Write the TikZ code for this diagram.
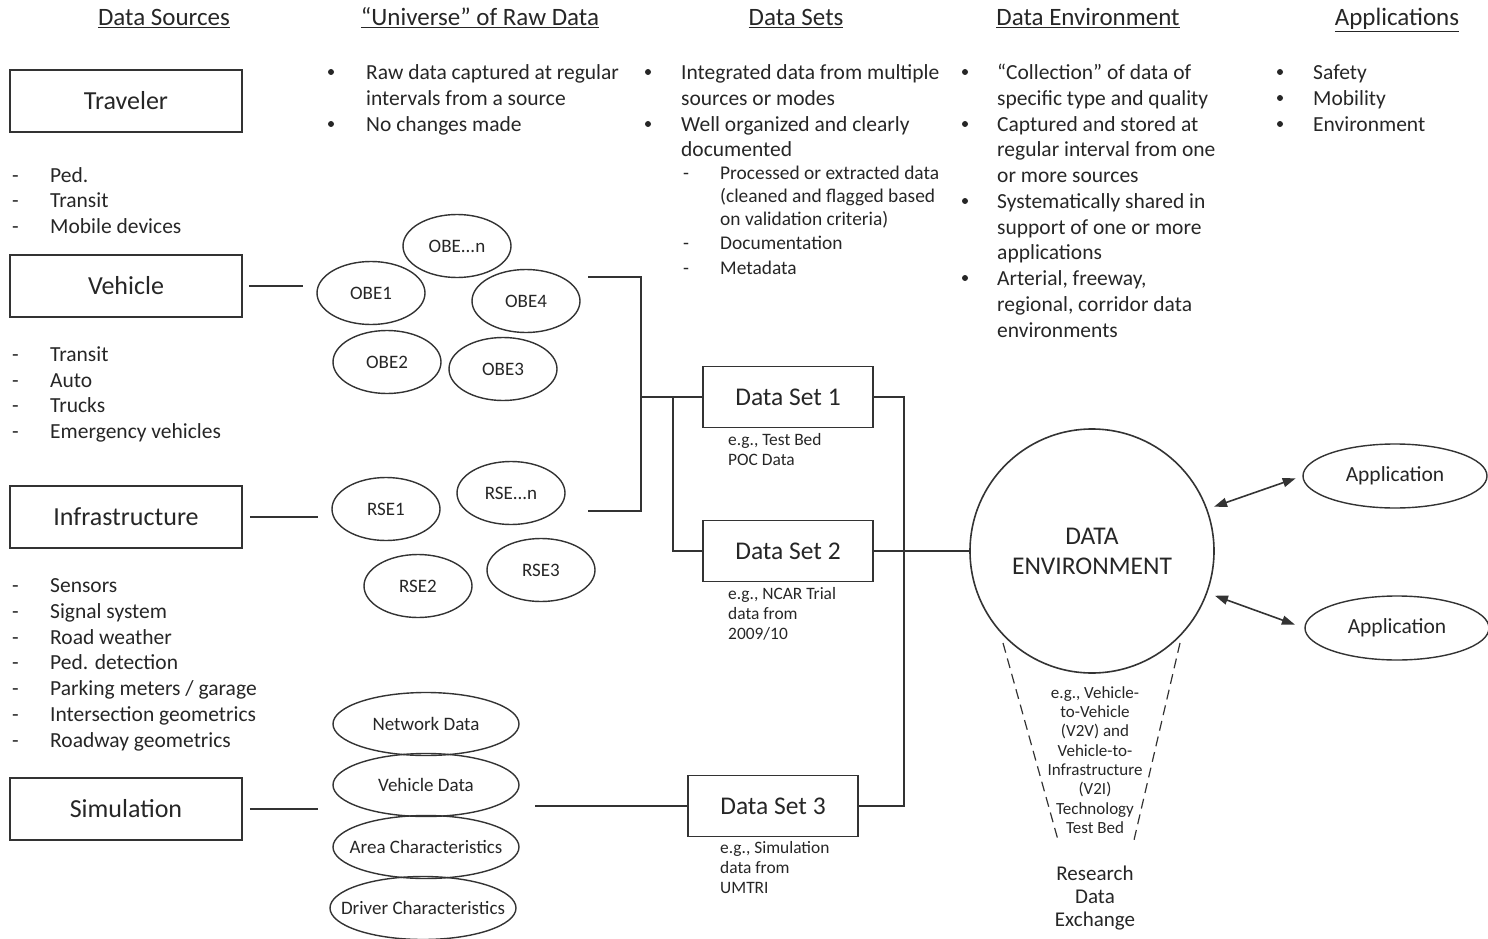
\documentclass[tikz,border=0pt]{standalone}
\usepackage{fontspec}
\setmainfont{Carlito}
\usetikzlibrary{shapes.geometric,arrows.meta,calc}
\definecolor{ink}{HTML}{262626}
\definecolor{edge}{HTML}{333333}
\begin{document}
\begin{tikzpicture}[x=1pt,y=-1pt,
  hdr/.style={anchor=base, inner sep=0, text=ink, font=\fontsize{25}{29}\selectfont},
  srcbox/.style={draw=edge, line width=1.6, minimum width=232, minimum height=62,
    inner sep=0, text=ink, font=\fontsize{26}{30}\selectfont},
  setbox/.style={draw=edge, line width=1.6, minimum width=170, minimum height=61,
    inner sep=0, text=ink, font=\fontsize{25.5}{30}\selectfont},
  rawtext/.style={inner sep=0, text=ink, font=\fontsize{19}{22}\selectfont},
  simtext/.style={inner sep=0, text=ink, font=\fontsize{19}{22}\selectfont},
  apptext/.style={inner sep=0, text=ink, font=\fontsize{21.5}{25}\selectfont},
  raw/.style={ellipse, draw=edge, line width=1.4, minimum width=108, minimum height=63,
    inner sep=0, label={[rawtext]center:#1}},
  simraw/.style={ellipse, draw=edge, line width=1.4, minimum width=186, minimum height=63,
    inner sep=0, label={[simtext]center:#1}},
  appnode/.style={ellipse, draw=edge, line width=1.4, minimum width=184, minimum height=64,
    inner sep=0, label={[apptext]center:#1}},
  item/.style={anchor=mid west, inner sep=0, yshift=-5pt, text=ink, font=\fontsize{21.5}{26}\selectfont},
  subitem/.style={anchor=mid west, inner sep=0, yshift=-4pt, text=ink, font=\fontsize{19.4}{23}\selectfont},
  setnote/.style={anchor=west, inner sep=0, align=left, text=ink, font=\fontsize{17.4}{20}\selectfont},
  bul/.style={circle, fill=ink, inner sep=0, minimum size=6},
  link/.style={draw=edge, line width=1.6},
  biarrow/.style={draw=edge, line width=1.6, {Triangle[length=13pt,width=9pt]}-{Triangle[length=13pt,width=9pt]}},
  conedash/.style={draw=edge, line width=1.2, dash pattern=on 10pt off 6pt}
]
\useasboundingbox (0,0) rectangle (1488,939);

% column headings
\node[hdr] (h1) at (164,26) {\underline{Data Sources}};
\node[hdr] (h2) at (480,26) {\underline{“Universe” of Raw Data}};
\node[hdr] (h3) at (796,26) {\underline{Data Sets}};
\node[hdr] (h4) at (1088,26) {\underline{Data Environment}};
\node[hdr] (h5) at (1397,26) {\underline{Applications}};

% data sources
\node[srcbox] (trav) at (126,101) {Traveler};
\node[srcbox] (veh)  at (126,286) {Vehicle};
\node[srcbox] (infra) at (126,517) {Infrastructure};
\node[srcbox] (sim)  at (126,809) {Simulation};

\foreach \y/\t [count=\i] in {175/Ped., 200/Transit, 226/Mobile devices} {
  \node[item] (tl\i) at (50,\y) {\t};
  \node[item] (td\i) at (12,\y) {-};
}
\foreach \y/\t [count=\i] in {354/Transit, 380/Auto, 405/Trucks, 431/Emergency vehicles} {
  \node[item] (vl\i) at (50,\y) {\t};
  \node[item] (vd\i) at (12,\y) {-};
}
\foreach \y/\t [count=\i] in {585/{Sensors}, 611/{Signal system}, 637/{Road weather},
    662/{Ped. detection}, 688/{Parking meters / garage}, 714/{Intersection geometrics},
    740/{Roadway geometrics}} {
  \node[item] (il\i) at (50,\y) {\t};
  \node[item] (id\i) at (12,\y) {-};
}

% raw data column text
\foreach \y/\t [count=\i] in {72/Raw data captured at regular, 98/intervals from a source, 124/No changes made}
  \node[item] (rl\i) at (366,\y) {\t};
\node[bul] (rb1) at (331,72) {};
\node[bul] (rb2) at (331,124) {};

% data sets column text
\foreach \y/\t [count=\i] in {72/Integrated data from multiple, 98/sources or modes,
    124/Well organized and clearly, 149/documented}
  \node[item] (sl\i) at (681,\y) {\t};
\node[bul] (sb1) at (648,72) {};
\node[bul] (sb2) at (648,124) {};
\foreach \y/\t [count=\i] in {173/{Processed or extracted data}, 196/{(cleaned and flagged based},
    219/{on validation criteria)}, 243/{Documentation}, 268/{Metadata}}
  \node[subitem] (ssl\i) at (720,\y) {\t};
\foreach \y [count=\i] in {173,243,268}
  \node[subitem] (ssd\i) at (683,\y) {-};

% data environment column text
\foreach \y/\t [count=\i] in {72/{“Collection” of data of}, 98/{specific type and quality},
    124/{Captured and stored at}, 149/{regular interval from one}, 175/{or more sources},
    201/{Systematically shared in}, 227/{support of one or more}, 252/{applications},
    278/{Arterial, freeway,}, 304/{regional, corridor data}, 330/{environments}}
  \node[item] (el\i) at (997,\y) {\t};
\foreach \y [count=\i] in {72,124,201,278}
  \node[bul] (eb\i) at (965,\y) {};

% applications column text
\foreach \y/\t [count=\i] in {72/Safety, 98/Mobility, 124/Environment}
  \node[item] (al\i) at (1313,\y) {\t};
\foreach \y [count=\i] in {72,98,124}
  \node[bul] (ab\i) at (1280,\y) {};

% on-board equipment
\node[raw=OBE...n] (obeN) at (457,246) {};
\node[raw=OBE1] (obe1) at (371,293) {};
\node[raw=OBE4] (obe4) at (526,301) {};
\node[raw=OBE2] (obe2) at (387,362) {};
\node[raw=OBE3] (obe3) at (503,369) {};

% roadside equipment
\node[raw=RSE1] (rse1) at (386,509) {};
\node[raw=RSE...n] (rseN) at (511,493) {};
\node[raw=RSE2] (rse2) at (418,586) {};
\node[raw=RSE3] (rse3) at (541,570) {};

% simulation inputs
\node[simraw=Network Data] (netd) at (426,724) {};
\node[simraw=Vehicle Data] (vehd) at (426,785) {};
\node[simraw=Area Characteristics] (area) at (426,847) {};
\node[simraw=Driver Characteristics] (drv)  at (423,908) {};

% data sets
\node[setbox] (ds1) at (788,397) {Data Set 1};
\node[setbox] (ds2) at (788,551) {Data Set 2};
\node[setbox] (ds3) at (773,806) {Data Set 3};
\node[setnote] (c1) at (728,450) {e.g., Test Bed\\POC Data};
\node[setnote] (c2) at (728,614) {e.g., NCAR Trial\\data from\\2009/10};
\node[setnote] (c3) at (720,868) {e.g., Simulation\\data from\\UMTRI};

% data environment and applications
\node[circle, draw=edge, line width=1.6, minimum size=244, inner sep=0, align=center,
  text=ink, font=\fontsize{25.5}{30}\selectfont] (de) at (1092,551) {DATA\\ENVIRONMENT};
\node[appnode=Application] (app1) at (1395,476) {};
\node[appnode=Application] (app2) at (1397,628) {};

\node[inner sep=0, align=center, text=ink, font=\fontsize{17}{19.3}\selectfont] (cone)
  at (1095,760) {e.g., Vehicle-\\to-Vehicle\\(V2V) and\\Vehicle-to-\\Infrastructure\\(V2I)\\Technology\\Test Bed};
\node[inner sep=0, align=center, text=ink, font=\fontsize{21}{23}\selectfont] (rde)
  at (1095,898) {Research\\Data\\Exchange};

% junction points
\coordinate (vehin) at (303,286);
\coordinate (infin) at (318,517);
\coordinate (simin) at (318,809);
\coordinate (obeout) at (588,277);
\coordinate (rseout) at (588,511);
\coordinate (bx) at (641,397);
\coordinate (bsplit) at (673,397);
\coordinate (simout) at (535,806);
\coordinate (rj) at (904,806);
\coordinate (coneL1) at (1003,643);
\coordinate (coneL2) at (1058,840);
\coordinate (coneR1) at (1180,643);
\coordinate (coneR2) at (1134,840);

% connectors
\draw[link] ([xshift=6]veh.east) -- (vehin);
\draw[link] ([xshift=7]infra.east) -- (infin);
\draw[link] ([xshift=7]sim.east) -- (simin);
\draw[link] (obeout) -| (bx) |- (rseout);
\draw[link] (bx) -- (ds1.west);
\draw[link] (bsplit) |- (ds2.west);
\draw[link] (simout) -- (ds3.west);
\draw[link] (ds1.east) -| (rj) -- (ds3.east);
\draw[link] (ds2.east) -- (de.west);
\draw[biarrow, shorten <=7pt, shorten >=7pt] (de.20) -- (app1.west);
\draw[biarrow, shorten <=8pt, shorten >=10pt] (de.-20) -- (app2.west);
\draw[conedash] (coneL1) -- (coneL2);
\draw[conedash] (coneR1) -- (coneR2);
\end{tikzpicture}
\end{document}
